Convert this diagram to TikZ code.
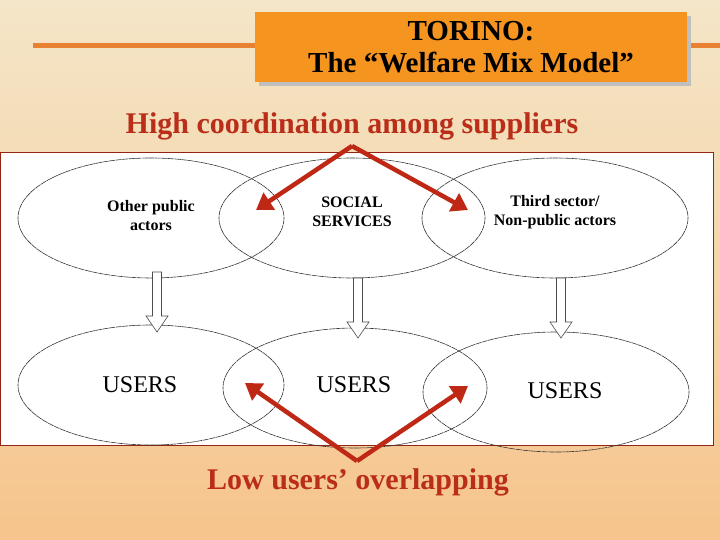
\documentclass[tikz,border=0pt]{standalone}
\usepackage{fontspec}
\setmainfont{Liberation Serif}
\usetikzlibrary{arrows.meta}
\definecolor{bgtop}{RGB}{244,230,200}
\definecolor{bgbot}{RGB}{246,196,140}
\definecolor{orng}{RGB}{246,148,32}
\definecolor{lineor}{RGB}{232,130,50}
\definecolor{redt}{RGB}{185,45,25}
\definecolor{reda}{RGB}{190,40,20}
\begin{document}
\begin{tikzpicture}[x=1pt,y=-1pt,
  ell/.style={draw=black!80,line width=0.6pt,dash pattern=on 6pt off 0.6pt},
  etext/.style={font=\bfseries\fontsize{16}{19}\selectfont,align=center},
  utext/.style={font=\fontsize{24}{28}\selectfont},
  hollow/.style={draw=black!70,fill=white,line width=0.6pt},
  redarr/.style={draw=reda,line width=4.5pt,-{Triangle[length=16pt,width=20pt]}},
  heading/.style={text=redt,font=\bfseries\fontsize{30}{34}\selectfont}]
\useasboundingbox (0,0) rectangle (720,540);
\shade[top color=bgtop,bottom color=bgbot] (0,0) rectangle (720,540);
\fill[lineor] (33,43) rectangle (255,48);
\fill[lineor] (687,43) rectangle (720,48);
\fill[black!25] (259,16) rectangle (691,86);
\node[fill=orng,minimum width=432pt,minimum height=70pt,inner sep=0pt,align=center,
  font=\bfseries\fontsize{29}{32}\selectfont] (title) at (471,47) {TORINO:\\The “Welfare Mix Model”};
\node[heading] (hi) at (352,126) {High coordination among suppliers};
\node[draw=redt!80!black,fill=white,line width=0.8pt,minimum width=713pt,minimum height=293pt,inner sep=0pt,anchor=north west] (panel) at (0,152) {};
% ellipses
\draw[ell] (151,218) ellipse [x radius=133,y radius=60];
\draw[ell] (352,218) ellipse [x radius=133,y radius=60];
\draw[ell] (555,218) ellipse [x radius=133,y radius=60];
\draw[ell] (151,385) ellipse [x radius=133,y radius=60];
\draw[ell] (355,388) ellipse [x radius=132,y radius=60];
\draw[ell] (556,392) ellipse [x radius=133,y radius=60];
\node[etext] (e1) at (151,216) {Other public\\actors};
\node[etext] (e2) at (352,212) {SOCIAL\\SERVICES};
\node[etext] (e3) at (555,212) {Third sector/\\Non-public actors};
\node[utext] (u1) at (140,385) {USERS};
\node[utext] (u2) at (354,385) {USERS};
\node[utext] (u3) at (565,391) {USERS};
% hollow arrows
\foreach \x/\a/\b in {157/272/332,358/278/338,561/278/338}{
  \draw[hollow] (\x-4.5,\a) -- (\x+4.5,\a) -- (\x+4.5,\b-16) -- (\x+11,\b-16) -- (\x,\b) -- (\x-11,\b-16) -- (\x-4.5,\b-16) -- cycle;}
% red arrows
\coordinate (tA) at (352,146);
\coordinate (bA) at (357,461);
\coordinate (t1) at (256,210);
\coordinate (t2) at (468,210);
\coordinate (b1) at (245,383);
\coordinate (b2) at (468,386);
\draw[redarr] (tA) -- (t1);
\draw[redarr] (tA) -- (t2);
\draw[redarr] (bA) -- (b1);
\draw[redarr] (bA) -- (b2);
\node[heading] (lo) at (358,482) {Low users’ overlapping};
\end{tikzpicture}
\end{document}
